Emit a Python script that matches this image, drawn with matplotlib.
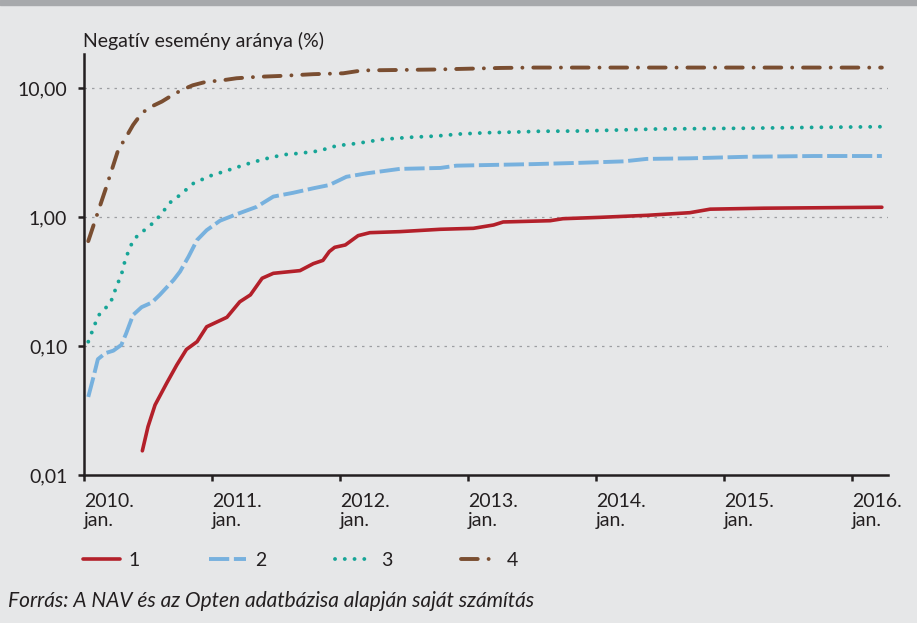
import numpy as np
import matplotlib
matplotlib.use("Agg")
import matplotlib.pyplot as plt

plt.rcParams['font.family'] = ['Lato', 'DejaVu Sans']

# honapok 2010. jan. ota (0 = 2010. jan.)
m1 = [5.47, 6.0, 6.66, 7.75, 8.7, 9.6, 10.6, 11.5, 13.4, 14.6, 15.6, 16.7, 17.75, 20.25,
      21.5, 22.4, 23.0, 23.5, 24.5, 25.7, 26.8, 29.6, 33.4, 36.5, 38.4, 39.3, 43.7, 44.9,
      48.4, 52.75, 56.8, 58.7, 63.7, 74.8]
v1 = [0.0154, 0.0237, 0.0349, 0.0515, 0.0713, 0.094, 0.108, 0.141, 0.167, 0.22, 0.249, 0.335,
      0.366, 0.384, 0.435, 0.461, 0.54, 0.582, 0.607, 0.717, 0.756, 0.77, 0.803, 0.817, 0.867,
      0.915, 0.936, 0.97, 0.994, 1.03, 1.08, 1.15, 1.17, 1.19]

m2 = [0.4, 0.9, 1.3, 2.0, 2.75, 3.5, 3.95, 4.6, 5.4, 6.35, 7.1, 8.4, 9.0, 9.8, 10.6, 11.5,
      12.75, 14.3, 16.2, 17.75, 19.6, 21.5, 23.0, 24.6, 26.5, 29.6, 33.4, 34.9, 39.0, 42.1,
      46.5, 50.6, 52.75, 56.8, 62.1, 68.4, 74.8]
v2 = [0.0403, 0.058, 0.079, 0.088, 0.092, 0.102, 0.125, 0.174, 0.2, 0.217, 0.249, 0.325,
      0.377, 0.493, 0.663, 0.79, 0.936, 1.05, 1.2, 1.44, 1.54, 1.67, 1.77, 2.05, 2.18, 2.36,
      2.40, 2.50, 2.54, 2.57, 2.63, 2.70, 2.82, 2.85, 2.93, 2.97, 2.97]

m3 = [0.4, 1.03, 1.4, 2.0, 2.5, 3.1, 3.5, 3.9, 4.25, 4.6, 5.25, 5.9, 6.5, 7.1, 8.1, 9.0,
      10.25, 11.8, 13.4, 15.25, 16.8, 18.7, 20.25, 22.0, 23.7, 25.6, 28.0, 30.6, 33.0, 35.25,
      37.75, 40.6, 42.75, 46.5, 53.7, 61.5, 68.4, 74.8]
v3 = [0.108, 0.148, 0.174, 0.196, 0.218, 0.297, 0.355, 0.478, 0.56, 0.66, 0.747, 0.817, 0.904,
      1.02, 1.30, 1.48, 1.82, 2.08, 2.29, 2.57, 2.80, 3.04, 3.12, 3.25, 3.57, 3.72, 4.0, 4.15,
      4.24, 4.4, 4.5, 4.56, 4.62, 4.64, 4.81, 4.87, 4.95, 5.01]

m4 = [0.4, 1.5, 2.0, 2.6, 3.2, 4.0, 4.6, 5.4, 6.2, 7.3, 8.4, 9.3, 10.2, 11.5, 12.75, 14.3,
      16.2, 18.4, 21.5, 24.3, 25.6, 26.5, 29.6, 32.7, 35.9, 39.0, 42.0, 48.4, 60.0, 74.8]
v4 = [0.65, 1.22, 1.62, 2.31, 3.3, 4.24, 5.17, 6.36, 7.1, 7.85, 8.93, 9.76, 10.5, 11.2, 11.4,
      11.9, 12.2, 12.4, 12.8, 13.0, 13.5, 13.7, 13.8, 13.9, 14.1, 14.3, 14.4, 14.4, 14.4, 14.4]

year_ticks = [0, 12, 24, 36, 48, 60, 72]
year_labels = ['2010.\njan.', '2011.\njan.', '2012.\njan.', '2013.\njan.',
               '2014.\njan.', '2015.\njan.', '2016.\njan.']
y_ticks = [0.01, 0.1, 1, 10]
y_labels = ['0,01', '0,10', '1,00', '10,00']

bg = '#e6e7e8'
fs = 14
fig = plt.figure(figsize=(9.17, 6.23), dpi=100, facecolor=bg)
ax = fig.add_axes([84/917, 148/623, 804/917, 421/623], facecolor=bg)

# felso szurke csik
fig.patches.append(plt.Rectangle((0, 1 - 5/623), 1, 5/623, transform=fig.transFigure,
                                 color='#a7a9ac', zorder=0))

ax.plot(m1, v1, color='#b3202a', lw=2.6, solid_capstyle='round', label='1')
ax.plot(m2, v2, color='#77b1de', lw=2.8, dashes=(5.2, 1.2), dash_capstyle='butt', label='2')
ax.plot(m3, v3, color='#17a597', lw=2.8, dashes=(0.01, 2.5), dash_capstyle='round', label='3')
ax.plot(m4, v4, color='#7a4e31', lw=2.8, dashes=(4.3, 2.8, 0.01, 2.8),
        dash_capstyle='round', label='4')

ax.set_yscale('log')
ax.set_xlim(0, 75.375)
ax.set_ylim(0.01, 10 ** (-2 + 421 / 129))
ax.set_yticks(y_ticks)
ax.set_yticklabels(y_labels)
ax.yaxis.set_minor_locator(matplotlib.ticker.NullLocator())
ax.set_xticks(year_ticks)
ax.set_xticklabels(year_labels, ha='left', linespacing=1.15)

for s in ['top', 'right']:
    ax.spines[s].set_visible(False)
for s in ['left', 'bottom']:
    ax.spines[s].set_linewidth(1.8)
    ax.spines[s].set_color('#231f20')

ax.tick_params(axis='both', direction='out', length=4, width=1.8, color='#231f20',
               labelsize=fs, labelcolor='#231f20')
ax.tick_params(axis='y', pad=8)
ax.tick_params(axis='x', pad=9)

for yv in [0.1, 1, 10]:
    ax.axhline(yv, color='#9d9fa2', lw=0.9, ls=(0, (2, 4)), zorder=0)

fig.text(83/917, 1 - 47/623, 'Negatív esemény aránya (%)', fontsize=fs, color='#231f20')

ax.legend(loc='center left', bbox_to_anchor=(83/917, 1 - 560/623),
          bbox_transform=fig.transFigure, ncol=4, frameon=False, fontsize=fs,
          handlelength=1.9, handletextpad=0.45, columnspacing=3.55, borderpad=0,
          borderaxespad=0, labelcolor='#231f20')

fig.text(8/917, 1 - 607/623, 'Forrás: A NAV és az Opten adatbázisa alapján saját számítás',
         fontsize=15, style='italic', color='#231f20')

fig.savefig('out.png', dpi=100, facecolor=bg)
